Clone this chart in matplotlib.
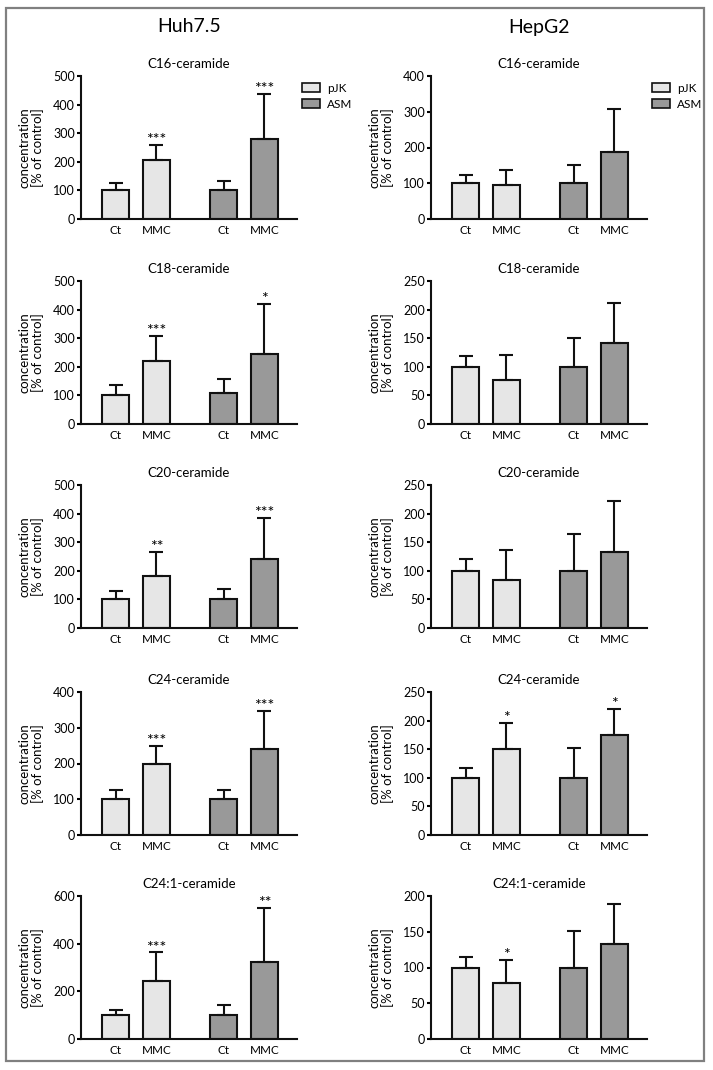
"""
Ceramide species in Huh7.5 and HepG2 cells (pJK vs ASM, Ct vs MMC).
Writes out.png.
"""

import matplotlib
matplotlib.use("Agg")
import matplotlib.pyplot as plt
from matplotlib.patches import Rectangle, Patch

plt.rcParams["font.family"] = ["Lato", "DejaVu Sans"]

LIGHT = "#e6e6e6"
DARK = "#999999"
EDGE = "#111111"
BORDER = "#808080"

# ----------------------------------------------------------
# Data
# ----------------------------------------------------------
cell_lines = ["Huh7.5", "HepG2"]
groups = ["pJK", "ASM"]
conditions = ["Ct", "MMC", "Ct", "MMC"]
lipids = ["C16-ceramide", "C18-ceramide", "C20-ceramide",
          "C24-ceramide", "C24:1-ceramide"]

huh_mean = [[100, 206, 100, 279],
            [100, 221, 107, 246],
            [100, 182, 103, 240],
            [100, 198, 100, 241],
            [100, 244, 100, 322]]
huh_sd = [[27, 53, 34, 158],
          [36, 87, 49, 173],
          [31, 84, 33, 146],
          [26, 50, 26, 105],
          [23, 119, 42, 228]]
huh_stars = [["", "***", "", "***"],
             ["", "***", "", "*"],
             ["", "**", "", "***"],
             ["", "***", "", "***"],
             ["", "***", "", "**"]]
huh_ymax = [500, 500, 500, 400, 600]
huh_ystep = [100, 100, 100, 100, 200]

hep_mean = [[100, 96, 100, 187],
            [100, 77, 100, 142],
            [100, 84, 100, 132],
            [100, 150, 100, 175],
            [100, 79, 100, 133]]
hep_sd = [[24, 42, 51, 122],
          [19, 43, 50, 69],
          [20, 52, 65, 90],
          [17, 46, 52, 45],
          [14, 31, 51, 56]]
hep_stars = [["", "", "", ""],
             ["", "", "", ""],
             ["", "", "", ""],
             ["", "*", "", "*"],
             ["", "*", "", ""]]
hep_ymax = [400, 250, 250, 250, 200]
hep_ystep = [100, 50, 50, 50, 50]

bar_pos = [0, 1, 2.65, 3.65]
bar_colors = [LIGHT, LIGHT, DARK, DARK]

# ----------------------------------------------------------
# Layout (pixel based, figure is 713 x 1070)
# ----------------------------------------------------------
W, H = 713, 1070
fig = plt.figure(figsize=(W / 100, H / 100), dpi=100)
fig.patch.set_facecolor("white")

col_left = [81, 431]
ax_w = 216
row_top = [76, 281, 485, 692, 896]
ax_h = 143


def draw_panel(ax, title, mean, sd, stars, ymax, ystep, legend=False):
    ax.bar(bar_pos, mean, width=0.66, color=bar_colors,
           edgecolor=EDGE, linewidth=1.5, zorder=2)
    ax.errorbar(bar_pos, mean, yerr=[[0] * len(sd), sd], fmt="none",
                ecolor=EDGE, elinewidth=1.5, capsize=5.2, capthick=1.5,
                zorder=3)
    for x, m, s, st in zip(bar_pos, mean, sd, stars):
        if st:
            ax.annotate(st, (x, m + s), xytext=(0, -1.5),
                        textcoords="offset points", ha="center",
                        va="bottom", fontsize=11.5)

    ax.set_xlim(-0.85, 4.45)
    ax.set_ylim(0, ymax)
    ax.set_yticks(range(0, ymax + 1, ystep))
    ax.set_xticks(bar_pos)
    ax.set_xticklabels(conditions)
    ax.set_title(title, fontsize=9.5, pad=6)
    ax.set_ylabel("concentration\n[% of control]", fontsize=9.5,
                  linespacing=1.05)
    ax.yaxis.set_label_coords(-0.17, 0.5)

    for side in ("top", "right"):
        ax.spines[side].set_visible(False)
    for side in ("left", "bottom"):
        ax.spines[side].set_linewidth(1.5)
        ax.spines[side].set_color(EDGE)
    ax.tick_params(axis="y", direction="out", length=3, width=1.5,
                   labelsize=9, pad=1.2)
    ax.tick_params(axis="x", length=0, labelsize=8.5, pad=4)

    if legend:
        handles = [Patch(facecolor=c, edgecolor=EDGE, linewidth=1.2)
                   for c in (LIGHT, DARK)]
        ax.legend(handles, groups, loc="upper left",
                  bbox_to_anchor=(0.99, 1.0), frameon=False,
                  fontsize=8.5, handlelength=1.5, handleheight=0.8,
                  handletextpad=0.6, labelspacing=0.4, borderaxespad=0.2)


datasets = [
    (huh_mean, huh_sd, huh_stars, huh_ymax, huh_ystep),
    (hep_mean, hep_sd, hep_stars, hep_ymax, hep_ystep),
]

for c, (mean, sd, stars, ymax, ystep) in enumerate(datasets):
    x0 = col_left[c]
    for r, lipid in enumerate(lipids):
        y0 = row_top[r]
        ax = fig.add_axes([x0 / W, 1 - (y0 + ax_h) / H, ax_w / W, ax_h / H])
        draw_panel(ax, lipid, mean[r], sd[r], stars[r], ymax[r], ystep[r],
                   legend=(r == 0))
    fig.text((x0 + ax_w / 2) / W, 1 - 27 / H, cell_lines[c],
             ha="center", va="center", fontsize=14)

# grey frame round the whole figure
fig.patches.append(Rectangle((6 / W, 1 - 1061 / H), 698 / W, 1053 / H,
                             transform=fig.transFigure, fill=False,
                             edgecolor=BORDER, linewidth=1.6))

fig.savefig("out.png", dpi=100, facecolor="white")
plt.close(fig)
